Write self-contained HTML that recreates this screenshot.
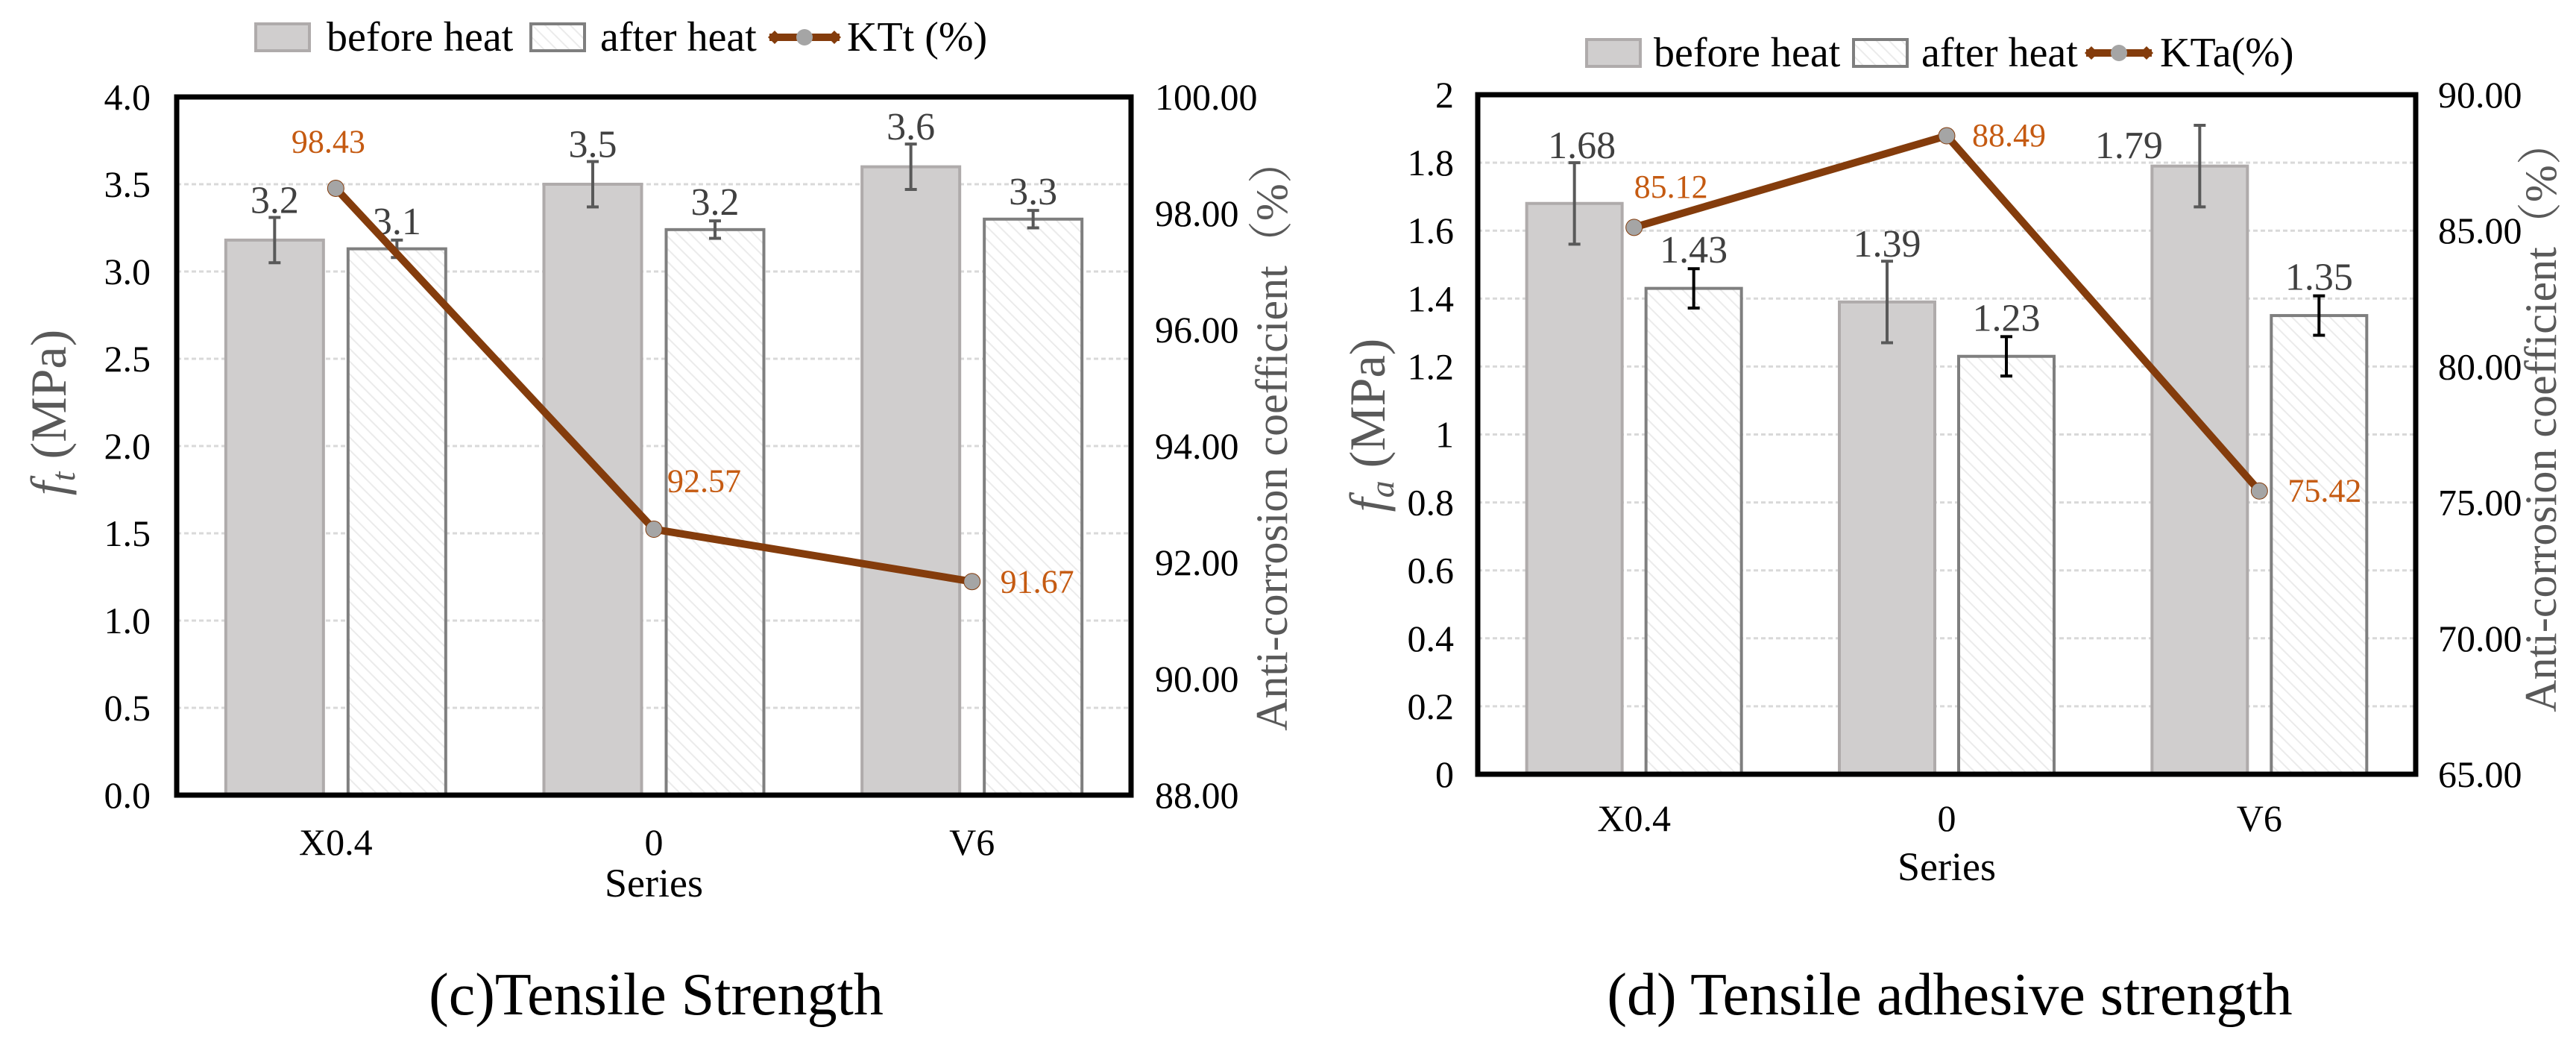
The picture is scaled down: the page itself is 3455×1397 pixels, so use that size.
<!DOCTYPE html>
<html><head><meta charset="utf-8">
<style>
html,body{margin:0;padding:0;background:#fff;}
svg{display:block;font-family:"Liberation Serif",serif;}
</style></head>
<body>
<svg id="fig" width="3455" height="1397" viewBox="0 0 3455 1397" xmlns="http://www.w3.org/2000/svg">
<defs>
<pattern id="hatch" patternUnits="userSpaceOnUse" width="12" height="12" patternTransform="rotate(-45)">
<rect width="12" height="12" fill="#fff"/>
<line x1="0" y1="0" x2="0" y2="12" stroke="#ebebeb" stroke-width="4"/>
</pattern>
</defs>
</svg>
<script>
// ---- Chart (c) data ----
const catsC = ["X0.4", "0", "V6"];
const beforeC = [3.18, 3.5, 3.6];
const afterC = [3.13, 3.24, 3.3];
const beforeErrC = [0.13, 0.13, 0.13];
const afterErrC = [0.05, 0.05, 0.05];
const beforeLblC = ["3.2", "3.5", "3.6"];
const afterLblC = ["3.1", "3.2", "3.3"];
const ktC = [98.43, 92.57, 91.67];
const ktLblC = ["98.43", "92.57", "91.67"];
const leftTicksC = [0, 0.5, 1.0, 1.5, 2.0, 2.5, 3.0, 3.5, 4.0];
const leftTickLblC = ["0.0","0.5","1.0","1.5","2.0","2.5","3.0","3.5","4.0"];
const rightTicksC = [88, 90, 92, 94, 96, 98, 100];
const rightTickLblC = ["88.00","90.00","92.00","94.00","96.00","98.00","100.00"];
// ---- Chart (d) data ----
const catsD = ["X0.4", "0", "V6"];
const beforeD = [1.68, 1.39, 1.79];
const afterD = [1.43, 1.23, 1.35];
const beforeErrD = [0.12, 0.12, 0.12];
const afterErrD = [0.058, 0.058, 0.058];
const beforeLblD = ["1.68", "1.39", "1.79"];
const afterLblD = ["1.43", "1.23", "1.35"];
const ktD = [85.12, 88.49, 75.42];
const ktLblD = ["85.12", "88.49", "75.42"];
const leftTicksD = [0, 0.2, 0.4, 0.6, 0.8, 1, 1.2, 1.4, 1.6, 1.8, 2];
const leftTickLblD = ["0","0.2","0.4","0.6","0.8","1","1.2","1.4","1.6","1.8","2"];
const rightTicksD = [65, 70, 75, 80, 85, 90];
const rightTickLblD = ["65.00","70.00","75.00","80.00","85.00","90.00"];

const NS = "http://www.w3.org/2000/svg";
const svg = document.getElementById("fig");
function mk(tag, attrs, parent, txt) {
  const e = document.createElementNS(NS, tag);
  for (const k in attrs) e.setAttribute(k, attrs[k]);
  if (txt !== undefined) e.textContent = txt;
  (parent || svg).appendChild(e);
  return e;
}

function drawChart(cfg) {
  const g = mk("g", {});
  
  
  const L = cfg.L, R = cfg.R, T = cfg.T, B = cfg.B;
  const yL = v => B - (v - cfg.lmin) / (cfg.lmax - cfg.lmin) * (B - T);
  const yR = v => B - (v - cfg.rmin) / (cfg.rmax - cfg.rmin) * (B - T);
  const cw = (R - L) / cfg.cats.length;
  const xc = i => L + cw * (i + 0.5);
  const bw = cfg.bw, gap = cfg.gap;

  cfg.lt.forEach((v, i) => {
    if (i > 0 && i < cfg.lt.length - 1) {
      const gl = mk("line", {x1: L, x2: R, y1: yL(v), y2: yL(v), stroke: "#d9d9d9", "stroke-width": 3, "stroke-dasharray": "6 4"}, g);
      
      
    }
    const t = mk("text", {x: cfg.ltx, y: yL(v) + 17, "text-anchor": "end", "font-size": 50, fill: "#000"}, g, cfg.ltl[i]);
    
    
  });
  cfg.rt.forEach((v, i) => {
    const t = mk("text", {x: cfg.rtx, y: yR(v) + 17, "text-anchor": "start", "font-size": 50, fill: "#000"}, g, cfg.rtl[i]);
    
    
  });

  cfg.cats.forEach((c, i) => {
    const x0 = xc(i) - gap / 2 - bw, x1 = xc(i) + gap / 2;
    const b1 = mk("rect", {x: x0, y: yL(cfg.before[i]), width: bw, height: B - yL(cfg.before[i]), fill: "#d0cece", stroke: "#afabab", "stroke-width": 4}, g);
    
    
    const b2 = mk("rect", {x: x1, y: yL(cfg.after[i]), width: bw, height: B - yL(cfg.after[i]), fill: "url(#hatch)", stroke: "#7f7f7f", "stroke-width": 4}, g);
    
    
    [[x0 + bw / 2, cfg.before[i], cfg.be[i], "#595959"], [x1 + bw / 2, cfg.after[i], cfg.ae[i], cfg.aeColor]].forEach(([ex, v, e, col]) => {
      const eg = mk("g", {stroke: col, "stroke-width": 4}, g);
      
      
      mk("line", {x1: ex, x2: ex, y1: yL(v + e), y2: yL(v - e)}, eg);
      mk("line", {x1: ex - 8, x2: ex + 8, y1: yL(v + e), y2: yL(v + e)}, eg);
      mk("line", {x1: ex - 8, x2: ex + 8, y1: yL(v - e), y2: yL(v - e)}, eg);
    });
    const l1 = mk("text", {x: x0 + bw / 2 + cfg.blDx[i], y: yL(cfg.before[i] + cfg.be[i]) - 6 + cfg.blDy[i], "text-anchor": "middle", "font-size": 52, fill: "#404040"}, g, cfg.bl[i]);
    
    
    const l2 = mk("text", {x: x1 + bw / 2, y: yL(cfg.after[i] + cfg.ae[i]) - 8, "text-anchor": "middle", "font-size": 52, fill: "#404040"}, g, cfg.al[i]);
    
    
    const xl = mk("text", {x: xc(i), y: cfg.xly, "text-anchor": "middle", "font-size": 50, fill: "#000"}, g, c);
    
    
  });

  const ax = mk("path", {d: `M${L},${T} L${L},${B} L${R},${B} L${R},${T} Z`, fill: "none", stroke: "#000", "stroke-width": 7}, g);
  
  

  const pts = cfg.kt.map((v, i) => `${xc(i)},${yR(v)}`).join(" ");
  const pl = mk("polyline", {points: pts, fill: "none", stroke: "#843c0c", "stroke-width": 10}, g);
  
  
  cfg.kt.forEach((v, i) => {
    const m = mk("circle", {cx: xc(i), cy: yR(v), r: 11, fill: "#a5a5a5", stroke: "#843c0c", "stroke-width": 1}, g);
    
    
    const o = cfg.klOff[i];
    const t = mk("text", {x: xc(i) + o[0], y: yR(v) + o[1], "text-anchor": o[2], "font-size": 44, fill: "#c55a11"}, g, cfg.kl[i]);
    
    
  });

  const st = mk("text", {x: (L + R) / 2, y: cfg.sy, "text-anchor": "middle", "font-size": 54, fill: "#000"}, g, "Series");
  
  
  const yt = mk("text", {transform: `translate(${cfg.ytx},${cfg.yty}) rotate(-90)`, "text-anchor": "middle", "font-size": 68, fill: "#595959"}, g);
  
  
  mk("tspan", {"font-style": "italic"}, yt, "f");
  mk("tspan", {"font-style": "italic", "font-size": 46, dy: 12}, yt, cfg.sub);
  mk("tspan", {dy: -12}, yt, " (MPa)");
  const rt = mk("text", {transform: `translate(${cfg.rtTx},${cfg.rtTy}) rotate(-90)`, "text-anchor": "middle", "font-size": 60, fill: "#595959", "font-family": "Liberation Serif, Noto Serif CJK SC, serif"}, g, "Anti-corrosion coefficient（%）");
  
  

  const lg = mk("g", {}, g);
  
  
  const ly = cfg.ly;
  const s1 = mk("rect", {x: cfg.lx[0], y: ly - 18, width: 72, height: 36, fill: "#d0cece", stroke: "#afabab", "stroke-width": 4}, lg);
  
  
  const t1 = mk("text", {x: cfg.lx[1], y: ly + 18, "font-size": 56, fill: "#000"}, lg, "before heat");
  
  
  const s2 = mk("rect", {x: cfg.lx[2], y: ly - 18, width: 72, height: 36, fill: "url(#hatch)", stroke: "#7f7f7f", "stroke-width": 4}, lg);
  
  
  const t2 = mk("text", {x: cfg.lx[3], y: ly + 18, "font-size": 56, fill: "#000"}, lg, "after heat");
  
  
  const lm = mk("g", {}, lg);
  
  
  mk("line", {x1: cfg.lx[4], x2: cfg.lx[5], y1: ly, y2: ly, stroke: "#843c0c", "stroke-width": 10}, lm);
  mk("path", {d: `M${cfg.lx[4]-2},${ly} l9,-9 l9,9 l-9,9 Z M${cfg.lx[5]+2},${ly} l-9,-9 l-9,9 l9,9 Z`, fill: "#843c0c"}, lm);
  mk("circle", {cx: (cfg.lx[4] + cfg.lx[5]) / 2, cy: ly, r: 11, fill: "#a5a5a5"}, lm);
  const t3 = mk("text", {x: cfg.lx[6], y: ly + 18, "font-size": 56, fill: "#000"}, lg, cfg.ktName);
  
  

  const cap = mk("text", {x: cfg.capx, y: cfg.capy, "text-anchor": "middle", "font-size": 80, fill: "#000"}, g, cfg.caption);
  
  
}

drawChart({
  name: "chart-tensile-strength", L: 237, R: 1517, T: 130, B: 1066,
  lmin: 0, lmax: 4, rmin: 88, rmax: 100, cats: catsC, bw: 131, gap: 33,
  before: beforeC, after: afterC, be: beforeErrC, ae: afterErrC, aeColor: "#595959",
  bl: beforeLblC, blDx: [0, 0, 0], blDy: [0, 0, 0], al: afterLblC, kt: ktC, kl: ktLblC,
  klOff: [[-10, -48, "middle"], [18, -50, "start"], [38, 15, "start"]],
  lt: leftTicksC, ltl: leftTickLblC, ltx: 202, rt: rightTicksC, rtl: rightTickLblC, rtx: 1549,
  xly: 1146, sy: 1202, ytx: 88, yty: 553, sub: "t", rtTx: 1726, rtTy: 583,
  ly: 50, lx: [343, 438, 712, 805, 1032, 1126, 1136], ktName: "KTt (%)",
  capx: 880, capy: 1360, caption: "(c)Tensile Strength"
});
drawChart({
  name: "chart-tensile-adhesive-strength", L: 1982, R: 3240, T: 127, B: 1038,
  lmin: 0, lmax: 2, rmin: 65, rmax: 90, cats: catsD, bw: 128, gap: 32,
  before: beforeD, after: afterD, be: beforeErrD, ae: afterErrD, aeColor: "#000",
  bl: beforeLblD, blDx: [10, 0, -95], blDy: [0, 0, 50], al: afterLblD, kt: ktD, kl: ktLblD,
  klOff: [[0, -40, "start"], [34, 14, "start"], [38, 14, "start"]],
  lt: leftTicksD, ltl: leftTickLblD, ltx: 1950, rt: rightTicksD, rtl: rightTickLblD, rtx: 3270,
  xly: 1114, sy: 1180, ytx: 1857, yty: 570, sub: "a", rtTx: 3428, rtTy: 558,
  ly: 71, lx: [2128, 2218, 2486, 2577, 2798, 2886, 2897], ktName: "KTa(%)",
  capx: 2615, capy: 1360, caption: "(d) Tensile adhesive strength"
});
</script>
</body></html>
